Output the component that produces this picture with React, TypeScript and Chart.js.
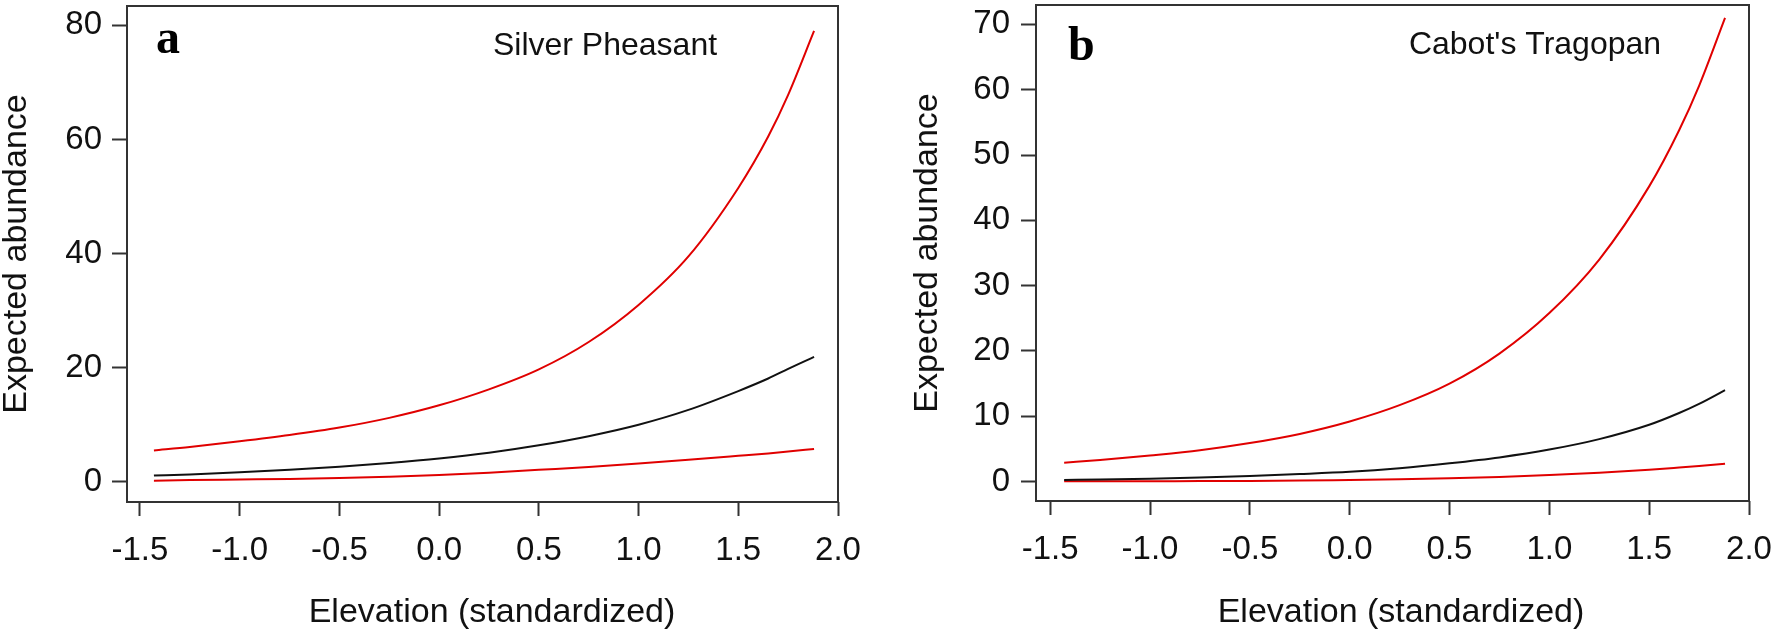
import React, { useEffect, useRef } from 'react';
import { Chart, registerables } from 'chart.js';

Chart.register(...registerables);

// ---- data ----
const elevation = [-1.43, -1.25, -1.0, -0.75, -0.5, -0.25, 0.0, 0.25, 0.5, 0.75, 1.0, 1.25, 1.5, 1.65, 1.75, 1.88];

const silverUpper = [5.5, 6.1, 7.1, 8.2, 9.5, 11.2, 13.4, 16.2, 19.7, 24.5, 31.0, 39.5, 51.5, 60.5, 67.8, 79.0];
const silverMean = [1.1, 1.3, 1.66, 2.1, 2.62, 3.3, 4.1, 5.1, 6.4, 8.0, 10.0, 12.6, 15.9, 18.1, 19.8, 21.9];
const silverLower = [0.2, 0.3, 0.4, 0.5, 0.65, 0.9, 1.2, 1.6, 2.1, 2.6, 3.2, 3.85, 4.55, 4.98, 5.3, 5.75];

const cabotUpper = [2.9, 3.3, 4.0, 4.8, 5.9, 7.3, 9.2, 11.7, 15.0, 19.6, 25.8, 34.0, 45.2, 53.8, 60.6, 71.0];
const cabotMean = [0.25, 0.32, 0.45, 0.62, 0.86, 1.15, 1.5, 2.05, 2.8, 3.7, 4.9, 6.5, 8.7, 10.5, 11.9, 14.0];
const cabotLower = [0.05, 0.05, 0.06, 0.08, 0.1, 0.15, 0.25, 0.35, 0.5, 0.7, 1.0, 1.35, 1.8, 2.15, 2.4, 2.75];

const xTickValues = [-1.5, -1.0, -0.5, 0.0, 0.5, 1.0, 1.5, 2.0];
const silverYTicks = [0, 20, 40, 60, 80];
const cabotYTicks = [0, 10, 20, 30, 40, 50, 60, 70];

const xTitle = 'Elevation (standardized)';
const yTitle = 'Expected abundance';

// ---- styling / layout ----
const FONT = "'Liberation Sans', Arial, sans-serif";
const RED = '#e00000';
const BLACK = '#111111';
const AXIS = '#333333';
const W = 886;
const H = 634;

type PanelCfg = {
  letter: string;
  species: string;
  upper: number[];
  mean: number[];
  lower: number[];
  yTicks: number[];
  area: { left: number; right: number; top: number; bottom: number };
  xMin: number;
  xMax: number;
  yMin: number;
  yMax: number;
  letterPos: [number, number];
  speciesPos: [number, number];
  xTitlePos: [number, number];
  yTitlePad: number;
  yTickPad: number;
};

const panels: PanelCfg[] = [
  {
    letter: 'a',
    species: 'Silver Pheasant',
    upper: silverUpper,
    mean: silverMean,
    lower: silverLower,
    yTicks: silverYTicks,
    area: { left: 127, right: 838, top: 6, bottom: 502 },
    xMin: -1.565,
    xMax: 2.0,
    yMin: -3.54,
    yMax: 83.38,
    letterPos: [156, 53],
    speciesPos: [605, 46],
    xTitlePos: [492, 613],
    yTitlePad: 0,
    yTickPad: 10,
  },
  {
    letter: 'b',
    species: "Cabot's Tragopan",
    upper: cabotUpper,
    mean: cabotMean,
    lower: cabotLower,
    yTicks: cabotYTicks,
    area: { left: 150, right: 863, top: 5, bottom: 501 },
    xMin: -1.571,
    xMax: 2.0,
    yMin: -2.97,
    yMax: 72.97,
    letterPos: [182, 60],
    speciesPos: [649, 45],
    xTitlePos: [515, 613],
    yTitlePad: 25,
    yTickPad: 11,
  },
];

function series(values: number[]) {
  return elevation.map((x, i) => ({ x, y: values[i] }));
}

function makeChart(canvas: HTMLCanvasElement, p: PanelCfg) {
  const boxPlugin = {
    id: 'boxAndText',
    afterDraw(chart: any) {
      const ctx = chart.ctx;
      const a = chart.chartArea;
      ctx.save();
      ctx.strokeStyle = AXIS;
      ctx.lineWidth = 2;
      ctx.strokeRect(a.left, a.top, a.right - a.left, a.bottom - a.top);
      ctx.fillStyle = '#000';
      ctx.font = "bold 48px 'Liberation Serif', 'Times New Roman', serif";
      ctx.textAlign = 'left';
      ctx.textBaseline = 'alphabetic';
      ctx.fillText(p.letter, p.letterPos[0], p.letterPos[1]);
      ctx.fillStyle = '#111';
      ctx.textAlign = 'center';
      ctx.textBaseline = 'middle';
      ctx.font = `32px ${FONT}`;
      ctx.fillText(p.species, p.speciesPos[0], p.speciesPos[1]);
      ctx.font = `34px ${FONT}`;
      ctx.fillText(xTitle, p.xTitlePos[0], p.xTitlePos[1]);
      ctx.restore();
    },
  };

  const line = (values: number[], color: string) => ({
    data: series(values),
    borderColor: color,
    backgroundColor: color,
    borderWidth: 2,
    pointRadius: 0,
    fill: false,
    cubicInterpolationMode: 'monotone' as const,
  });

  return new Chart(canvas, {
    type: 'line',
    data: {
      datasets: [line(p.upper, RED), line(p.mean, BLACK), line(p.lower, RED)],
    },
    options: {
      responsive: false,
      animation: false,
      devicePixelRatio: 1,
      layout: {
        padding: { left: 0, top: p.area.top, right: W - p.area.right, bottom: 0 },
      },
      plugins: {
        legend: { display: false },
        tooltip: { enabled: false },
      },
      scales: {
        x: {
          type: 'linear',
          min: p.xMin,
          max: p.xMax,
          afterBuildTicks: (scale: any) => {
            scale.ticks = xTickValues.map((v) => ({ value: v }));
          },
          afterFit: (scale: any) => {
            scale.height = H - p.area.bottom;
            scale.paddingLeft = 0;
            scale.paddingRight = 0;
          },
          ticks: {
            autoSkip: false,
            maxRotation: 0,
            padding: 15,
            color: '#111',
            font: { family: FONT, size: 33 },
            callback: (v: any) => Number(v).toFixed(1),
          },
          grid: {
            drawOnChartArea: false,
            drawTicks: true,
            tickLength: 14,
            tickColor: AXIS,
            tickWidth: 2,
          },
          border: { display: false },
          title: { display: false },
        },
        y: {
          type: 'linear',
          min: p.yMin,
          max: p.yMax,
          afterBuildTicks: (scale: any) => {
            scale.ticks = p.yTicks.map((v) => ({ value: v }));
          },
          afterFit: (scale: any) => {
            scale.width = p.area.left;
            scale.paddingTop = 0;
            scale.paddingBottom = 0;
          },
          ticks: {
            autoSkip: false,
            padding: p.yTickPad,
            color: '#111',
            font: { family: FONT, size: 33 },
            callback: (v: any) => String(v),
          },
          grid: {
            drawOnChartArea: false,
            drawTicks: true,
            tickLength: 15,
            tickColor: AXIS,
            tickWidth: 2,
          },
          border: { display: false },
          title: {
            display: true,
            text: yTitle,
            color: '#111',
            font: { family: FONT, size: 34, lineHeight: 1 },
            padding: { top: p.yTitlePad, bottom: 0 },
          },
        },
      },
    },
    plugins: [boxPlugin],
  } as any);
}

function Panel({ cfg, left }: { cfg: PanelCfg; left: number }) {
  const ref = useRef<HTMLCanvasElement | null>(null);
  useEffect(() => {
    if (!ref.current) return;
    const chart = makeChart(ref.current, cfg);
    return () => chart.destroy();
  }, [cfg]);
  return (
    <canvas
      ref={ref}
      width={W}
      height={H}
      style={{ position: 'absolute', left, top: 0, width: W, height: H, display: 'block' }}
    />
  );
}

export default function App() {
  return (
    <div
      style={{
        position: 'fixed',
        left: 0,
        top: 0,
        width: 1772,
        height: 634,
        background: '#ffffff',
        overflow: 'hidden',
      }}
    >
      <Panel cfg={panels[0]} left={0} />
      <Panel cfg={panels[1]} left={W} />
    </div>
  );
}
